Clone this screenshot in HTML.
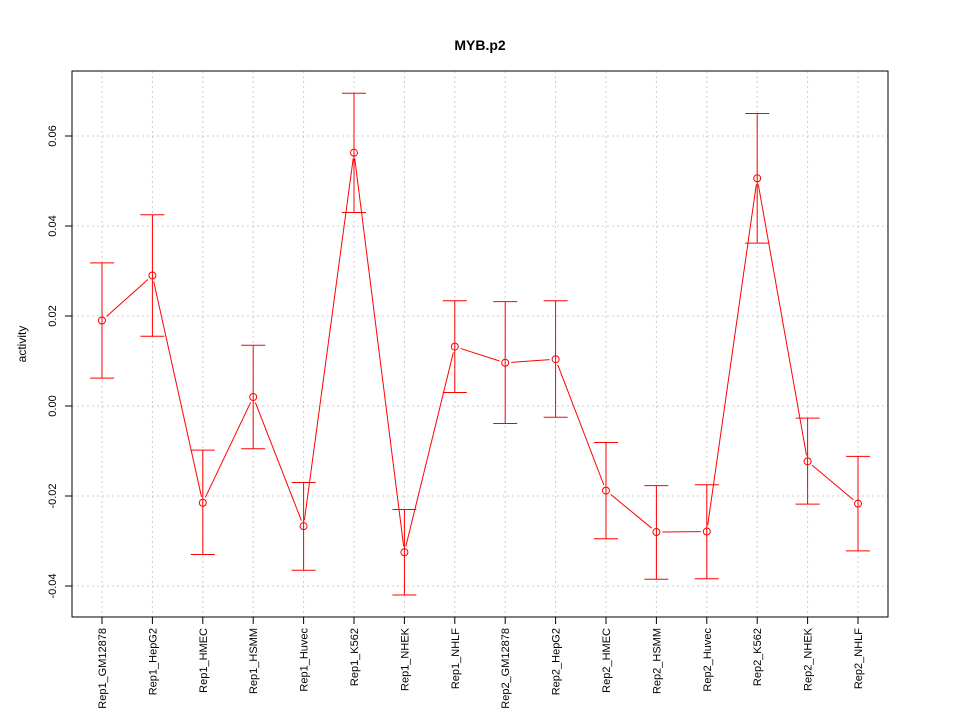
<!DOCTYPE html>
<html><head><meta charset="utf-8"><style>body{margin:0;background:#fff}svg{display:block;font-family:"Liberation Sans",sans-serif}</style></head>
<body>
<svg id="c" width="960" height="720"></svg>
<script>
const categories=["Rep1_GM12878","Rep1_HepG2","Rep1_HMEC","Rep1_HSMM","Rep1_Huvec","Rep1_K562","Rep1_NHEK","Rep1_NHLF","Rep2_GM12878","Rep2_HepG2","Rep2_HMEC","Rep2_HSMM","Rep2_Huvec","Rep2_K562","Rep2_NHEK","Rep2_NHLF"];
const values=[0.019,0.029,-0.0215,0.002,-0.0267,0.0563,-0.0325,0.0132,0.0096,0.0104,-0.0188,-0.028,-0.0279,0.0506,-0.0123,-0.0217];
const lower=[0.0062,0.0155,-0.033,-0.0095,-0.0365,0.043,-0.042,0.003,-0.0039,-0.0025,-0.0295,-0.0385,-0.0384,0.0362,-0.0218,-0.0322];
const upper=[0.0318,0.0425,-0.0098,0.0135,-0.017,0.0695,-0.023,0.0234,0.0232,0.0234,-0.0081,-0.0177,-0.0175,0.065,-0.0027,-0.0112];
const yTicks=[-0.04,-0.02,0.00,0.02,0.04,0.06];
const yTickLabels=["-0.04","-0.02","0.00","0.02","0.04","0.06"];
const svg=document.getElementById('c');const NS="http://www.w3.org/2000/svg";
function y(v){return 406-4500*v;}
function x(i){return 102+i*50.4;}
function mk(t,a,txt){const e=document.createElementNS(NS,t);for(const k in a)e.setAttribute(k,a[k]);if(txt!==undefined)e.textContent=txt;svg.appendChild(e);return e;}
let e;
e=mk('text',{x:480,y:50,'text-anchor':'middle','font-size':14,'font-weight':'bold'},'MYB.p2');


e=mk('text',{x:0,y:0,transform:'translate(26,344) rotate(-90)','text-anchor':'middle','font-size':12},'activity');


categories.forEach((c,i)=>{
 e=mk('line',{x1:x(i),x2:x(i),y1:71,y2:617,stroke:'#ccc','stroke-dasharray':'2,3'});
 
 
 e=mk('line',{x1:x(i),x2:x(i),y1:617,y2:624,stroke:'#000'});
 
 
 e=mk('text',{x:0,y:0,transform:`translate(${x(i)+4},628) rotate(-90)`,'text-anchor':'end','font-size':11},c);
 
 
});
yTicks.forEach((t,i)=>{
 e=mk('line',{x1:72,x2:888,y1:y(t),y2:y(t),stroke:'#ccc','stroke-dasharray':'2,3'});
 
 
 e=mk('line',{x1:65,x2:72,y1:y(t),y2:y(t),stroke:'#000'});
 
 
 e=mk('text',{x:0,y:0,transform:`translate(56,${y(t)}) rotate(-90)`,'text-anchor':'middle','font-size':11},yTickLabels[i]);
 
 
});
e=mk('rect',{x:72,y:71,width:816,height:546,fill:'none',stroke:'#000'});


values.forEach((v,i)=>{
 if(i<values.length-1){
  const x1=x(i),y1=y(v),x2=x(i+1),y2=y(values[i+1]);const d=Math.hypot(x2-x1,y2-y1),g=6/d;
  e=mk('line',{x1:x1+(x2-x1)*g,y1:y1+(y2-y1)*g,x2:x2-(x2-x1)*g,y2:y2-(y2-y1)*g,stroke:'#f00'});
  
  
 }
 e=mk('line',{x1:x(i),x2:x(i),y1:y(lower[i]),y2:y(upper[i]),stroke:'#f00'});
 
 
 [lower[i],upper[i]].forEach(b=>{
  e=mk('line',{x1:x(i)-12,x2:x(i)+12,y1:y(b),y2:y(b),stroke:'#f00'});
  
  
 });
 e=mk('circle',{cx:x(i),cy:y(v),r:3.5,fill:'none',stroke:'#f00'});
 
 
});
</script>
</body></html>
